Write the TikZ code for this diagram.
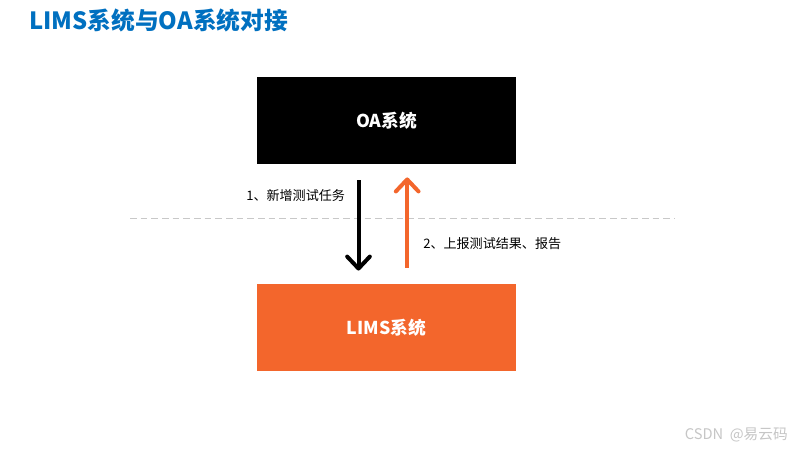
\documentclass[tikz,border=0pt]{standalone}
\usepackage{fontspec}
\setmainfont{Noto Sans CJK SC}
\usetikzlibrary{arrows.meta,positioning}
\definecolor{titleblue}{HTML}{0070C0}
\definecolor{limsorange}{HTML}{F3662C}
\definecolor{sepgray}{HTML}{C8C8C8}
\tikzset{
  sysbox/.style={minimum width=194pt,minimum height=65pt,inner sep=0pt,text=white,font=\bfseries\fontsize{13.3}{15}\selectfont},
  flowlabel/.style={font=\fontsize{9.8}{11}\selectfont,inner sep=0pt},
  flowarrow/.style={line width=3pt,-{Straight Barb[length=9pt,width=17pt,round]},shorten <=12pt,shorten >=10pt}
}
\begin{document}
\begin{tikzpicture}[x=0.75pt,y=-0.75pt]
\useasboundingbox[fill=white](0,0) rectangle (800,450);
%title
\node[anchor=west,inner sep=0pt,text=titleblue,font=\bfseries\fontsize{17.8}{19}\selectfont] (title) at (29,20) {LIMS系统与OA系统对接};
%the two systems
\node[sysbox,fill=black] (oa) at (386.5,120.5) {OA系统};
\node[sysbox,fill=limsorange] (lims) at (386.5,327.5) {LIMS系统};
%separator
\draw[sepgray,dashed,dash pattern=on 5pt off 3pt] (130,218)--(675,218);
%flows
\draw[flowarrow,black] ([xshift=-21pt]oa.south)--([xshift=-21pt]lims.north);
\draw[flowarrow,limsorange] ([xshift=15.5pt]lims.north)--([xshift=15.5pt]oa.south);
\node[flowlabel,anchor=west] (task) at (246,196) {1、新增测试任务};
\node[flowlabel,anchor=west] (report) at (423,244) {2、上报测试结果、报告};
%watermark
\node[anchor=east,inner sep=0pt,text=gray!45,font=\fontsize{11}{12}\selectfont] (mark) at (788,435) {CSDN \ @易云码};
\end{tikzpicture}
\end{document}
